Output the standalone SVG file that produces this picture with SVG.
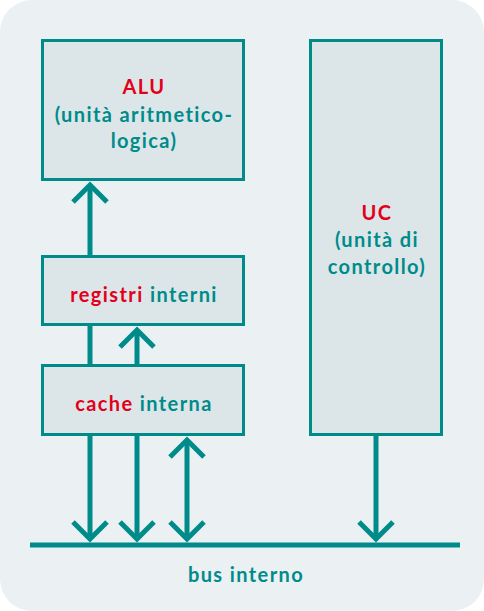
<svg xmlns="http://www.w3.org/2000/svg" width="484" height="611" viewBox="0 0 484 611">
<defs>
<style>
.box{fill:#dce6e8;stroke:#008b8b;stroke-width:3}
.ln{fill:none;stroke:#008b8b;stroke-width:5}
.hd{fill:none;stroke:#008b8b;stroke-width:5;stroke-linecap:butt;stroke-linejoin:miter}
text{font-family:Lato,"Open Sans","DejaVu Sans",sans-serif;font-weight:bold;font-size:20px;letter-spacing:1.4px;font-variant-ligatures:none;text-anchor:middle;fill:#008b8b}
.r{fill:#e2001a}
</style>
</defs>
<rect x="0" y="0" width="484" height="611" fill="#ffffff"/>
<rect x="0" y="0" width="484" height="611" rx="32" ry="32" fill="#ebf0f2"/>
<g id="alu">
<rect class="box" x="42.5" y="40.5" width="201" height="139"/>
<text x="144" y="94"><tspan class="r">ALU</tspan></text>
<text x="144" y="122">(unità aritmetico-</text>
<text x="144" y="148">logica)</text>
</g>
<g id="registri">
<rect class="box" x="42.5" y="256.5" width="201" height="68"/>
<text x="144" y="302"><tspan class="r">registri</tspan> interni</text>
</g>
<g id="cache">
<rect class="box" x="42.5" y="365.5" width="201" height="69"/>
<text x="144" y="411"><tspan class="r">cache</tspan> interna</text>
</g>
<g id="uc">
<rect class="box" x="310.5" y="40.5" width="131" height="394"/>
<text x="377" y="220"><tspan class="r">UC</tspan></text>
<text x="377" y="247">(unità di</text>
<text x="377" y="274">controllo)</text>
</g>
<g id="bus">
<line class="ln" x1="30" y1="545" x2="460" y2="545"/>
<text x="246" y="582">bus interno</text>
</g>
<g id="connectors">
<line class="ln" x1="90" y1="255" x2="90" y2="185"/>
<polyline class="hd" points="73,202 90,185 107,202"/>
<line class="ln" x1="90" y1="326" x2="90" y2="364"/>
<line class="ln" x1="137" y1="364" x2="137" y2="330"/>
<polyline class="hd" points="120,347 137,330 154,347"/>
<line class="ln" x1="90" y1="436" x2="90" y2="539"/>
<polyline class="hd" points="73,522 90,539 107,522"/>
<line class="ln" x1="137" y1="436" x2="137" y2="539"/>
<polyline class="hd" points="120,522 137,539 154,522"/>
<line class="ln" x1="187" y1="440" x2="187" y2="539"/>
<polyline class="hd" points="170,457 187,440 204,457"/>
<polyline class="hd" points="170,522 187,539 204,522"/>
<line class="ln" x1="376" y1="436" x2="376" y2="539"/>
<polyline class="hd" points="359,522 376,539 393,522"/>
</g>
</svg>
